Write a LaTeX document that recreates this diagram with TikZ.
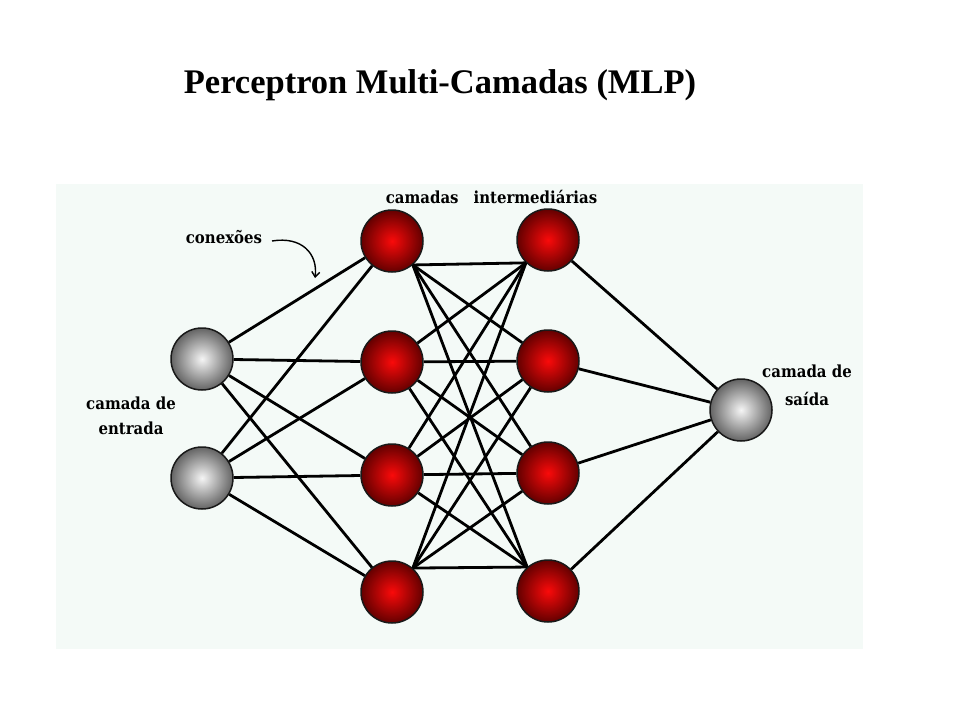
\documentclass[tikz,border=0pt]{standalone}
\usepackage{fontspec}
\setmainfont{Liberation Serif}
\newfontfamily\lblfont[FakeStretch=0.9]{DejaVu Serif}
\usetikzlibrary{arrows.meta}
\definecolor{panelbg}{RGB}{244,250,247}
\definecolor{redin}{RGB}{250,10,10}
\definecolor{redout}{RGB}{100,0,0}
\definecolor{grayin}{RGB}{245,245,245}
\definecolor{grayout}{RGB}{100,100,100}
\begin{document}
\begin{tikzpicture}[x=1pt,y=-1pt,
  neuron/.style={circle,minimum size=62pt,inner sep=0pt,draw=black!90,line width=1.5pt,shading=radial},
  rneuron/.style={neuron,inner color=redin,outer color=redout},
  gneuron/.style={neuron,inner color=grayin,outer color=grayout},
  conn/.style={line width=2.8pt,black},
  lbl/.style={font=\lblfont\bfseries\fontsize{16.6}{25.5}\selectfont,align=center,inner sep=0pt},
  ]
\fill[white] (0,0) rectangle (960,720);
\useasboundingbox (0,0) rectangle (960,720);
\fill[panelbg] (56,184) rectangle (863,649);

% title
\node[anchor=base,inner sep=0pt,font=\bfseries\fontsize{34.5}{40}\selectfont] (title) at (440,93) {Perceptron Multi-Camadas (MLP)};

% neurons
\node[gneuron] (i1) at (202,359) {};
\node[gneuron] (i2) at (202,478) {};
\node[rneuron] (a1) at (392,241) {};
\node[rneuron] (a2) at (392,362) {};
\node[rneuron] (a3) at (392,475) {};
\node[rneuron] (a4) at (392,592) {};
\node[rneuron] (b1) at (548,240) {};
\node[rneuron] (b2) at (548,361) {};
\node[rneuron] (b3) at (548,473) {};
\node[rneuron] (b4) at (548,591) {};
\node[gneuron] (o) at (741,410) {};

% input -> hidden 1
\foreach \s in {i1,i2}{
  \foreach \t in {a1,a2,a3,a4}{
    \draw[conn] (\s) -- (\t);
  }
}
% hidden 1 -> hidden 2
\draw[conn] (a1.-49) -- (b1.-134);
\draw[conn] (a1.-49) -- (b2);
\draw[conn] (a1.-49) -- (b3);
\draw[conn] (a1.-49) -- (b4.131);
\draw[conn] (a2) -- (b1.-134);
\draw[conn] (a2) -- (b2);
\draw[conn] (a2) -- (b3);
\draw[conn] (a2) -- (b4.131);
\draw[conn] (a3) -- (b1.-134);
\draw[conn] (a3) -- (b2);
\draw[conn] (a3) -- (b3);
\draw[conn] (a3) -- (b4.131);
\draw[conn] (a4.49) -- (b1.-134);
\draw[conn] (a4.49) -- (b2);
\draw[conn] (a4.49) -- (b3);
\draw[conn] (a4.49) -- (b4.131);
% hidden 2 -> output
\foreach \s in {b1,b2,b3,b4}{
  \draw[conn] (\s) -- (o);
}

% labels
\node[lbl,anchor=base] (lhid) at (491.5,203) {camadas\hspace{15pt}intermediárias};
\node[lbl,anchor=base] (lcon) at (224,243) {conexões};
\node[lbl] (lin) at (131,416) {camada de\\entrada};
\node[lbl,font=\lblfont\bfseries\fontsize{16.6}{28}\selectfont] (lout) at (807,385) {camada de\\saída};

% arrow for conexoes
\coordinate (arrs) at (272,241);
\coordinate (arre) at (315,278);
\draw[line width=1.4pt,-{Straight Barb[length=5pt,width=8pt]}] (arrs) .. controls (302,236) and (318,254) .. (arre);
\end{tikzpicture}
\end{document}
